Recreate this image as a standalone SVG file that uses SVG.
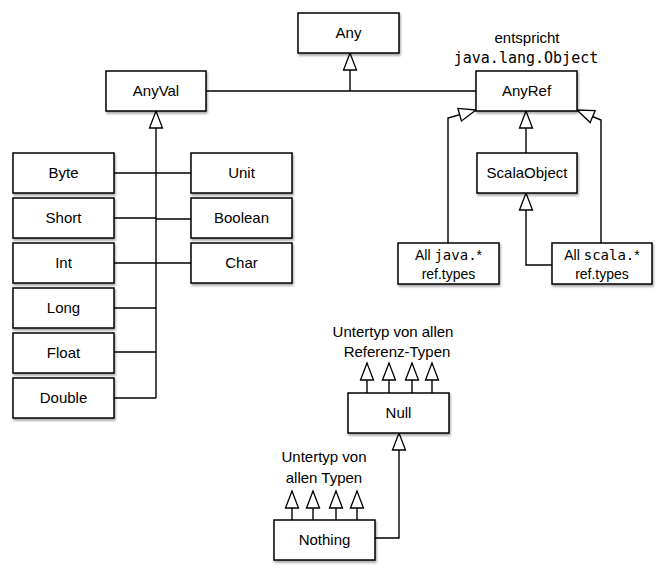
<svg xmlns="http://www.w3.org/2000/svg" width="665" height="575" viewBox="0 0 665 575">
<style>
.box{fill:#fff;stroke:#000;stroke-width:1.5;filter:url(#sh)}
.t{font-family:"Liberation Sans","DejaVu Sans",sans-serif;font-size:15px;fill:#000;text-anchor:middle}
.s{font-size:14px}
.m{font-family:"DejaVu Sans Mono","Liberation Mono",monospace}
.c{fill:none;stroke:#000;stroke-width:1.4}
.a{marker-end:url(#tri)}
</style>
<defs>
<filter id="sh" x="-10%" y="-10%" width="130%" height="140%">
<feDropShadow dx="1" dy="2" stdDeviation="1" flood-color="#000" flood-opacity="0.35"/>
</filter>
<marker id="tri" markerUnits="userSpaceOnUse" viewBox="-19 -9 21 18" markerWidth="21" markerHeight="18" refX="0" refY="0" orient="auto">
<path d="M0,0 L-17,-6.5 L-17,6.5 Z" fill="#fff" stroke="#000" stroke-width="1.3"/>
</marker>
</defs>
<g id="connectors">
<path class="c" d="M206,91 H476"/>
<path class="c a" d="M350,91 V53"/>
<path class="c a" d="M156,398 V111"/>
<path class="c" d="M114,173 H191"/>
<path class="c" d="M114,218 H156 M156,219 H191"/>
<path class="c" d="M114,263 H191"/>
<path class="c" d="M114,308 H156"/>
<path class="c" d="M114,352 H156"/>
<path class="c" d="M114,398 H156"/>
<path class="c a" d="M526,153 V111"/>
<path class="c a" d="M448,243 V118 L476,110"/>
<path class="c a" d="M601,243 V120 L577,110"/>
<path class="c a" d="M552,265 H526 V193"/>
<path class="c a" d="M367,393 V363"/>
<path class="c a" d="M389,393 V363"/>
<path class="c a" d="M412,393 V363"/>
<path class="c a" d="M432,393 V363"/>
<path class="c a" d="M375,538 H399 V433"/>
<path class="c a" d="M292,520 V491"/>
<path class="c a" d="M313,520 V491"/>
<path class="c a" d="M336,520 V491"/>
<path class="c a" d="M357,520 V491"/>
</g>
<g id="any"><rect class="box" x="298" y="13" width="101" height="40"/><text class="t" x="348.5" y="38">Any</text></g>
<g id="anyval"><rect class="box" x="106" y="71" width="100" height="40"/><text class="t" x="156" y="96">AnyVal</text></g>
<g id="anyref"><rect class="box" x="476" y="71" width="101" height="40"/><text class="t" x="526.5" y="96">AnyRef</text></g>
<g id="anyref-note"><text class="t" x="527" y="43">entspricht</text><text class="t m" x="526" y="63" font-size="16">java.lang.Object</text></g>
<g id="scalaobject"><rect class="box" x="477" y="153" width="100" height="40"/><text class="t" x="527" y="178">ScalaObject</text></g>
<g id="alljava"><rect class="box" x="398" y="243" width="101" height="41"/><text class="t s" x="448.5" y="260">All <tspan class="m">java.</tspan>*</text><text class="t s" x="448.5" y="279">ref.types</text></g>
<g id="allscala"><rect class="box" x="552" y="243" width="100" height="41"/><text class="t s" x="602" y="260">All <tspan class="m">scala.</tspan>*</text><text class="t s" x="602" y="279">ref.types</text></g>
<g id="byte"><rect class="box" x="13" y="153" width="101" height="40"/><text class="t" x="63.5" y="178">Byte</text></g>
<g id="short"><rect class="box" x="13" y="198" width="101" height="40"/><text class="t" x="63.5" y="223">Short</text></g>
<g id="int"><rect class="box" x="13" y="243" width="101" height="40"/><text class="t" x="63.5" y="268">Int</text></g>
<g id="long"><rect class="box" x="13" y="288" width="101" height="40"/><text class="t" x="63.5" y="313">Long</text></g>
<g id="float"><rect class="box" x="13" y="333" width="101" height="40"/><text class="t" x="63.5" y="358">Float</text></g>
<g id="double"><rect class="box" x="13" y="378" width="101" height="40"/><text class="t" x="63.5" y="403">Double</text></g>
<g id="unit"><rect class="box" x="191" y="153" width="101" height="40"/><text class="t" x="241.5" y="178">Unit</text></g>
<g id="boolean"><rect class="box" x="191" y="198" width="101" height="40"/><text class="t" x="241.5" y="223">Boolean</text></g>
<g id="char"><rect class="box" x="191" y="243" width="101" height="40"/><text class="t" x="241.5" y="268">Char</text></g>
<g id="null-note"><text class="t" x="393" y="337">Untertyp von allen</text><text class="t" x="397" y="357">Referenz-Typen</text></g>
<g id="null"><rect class="box" x="348" y="393" width="101" height="40"/><text class="t" x="398.5" y="418">Null</text></g>
<g id="nothing-note"><text class="t" x="324" y="462">Untertyp von</text><text class="t" x="324" y="483">allen Typen</text></g>
<g id="nothing"><rect class="box" x="274" y="520" width="101" height="40"/><text class="t" x="324.5" y="545">Nothing</text></g>
</svg>
